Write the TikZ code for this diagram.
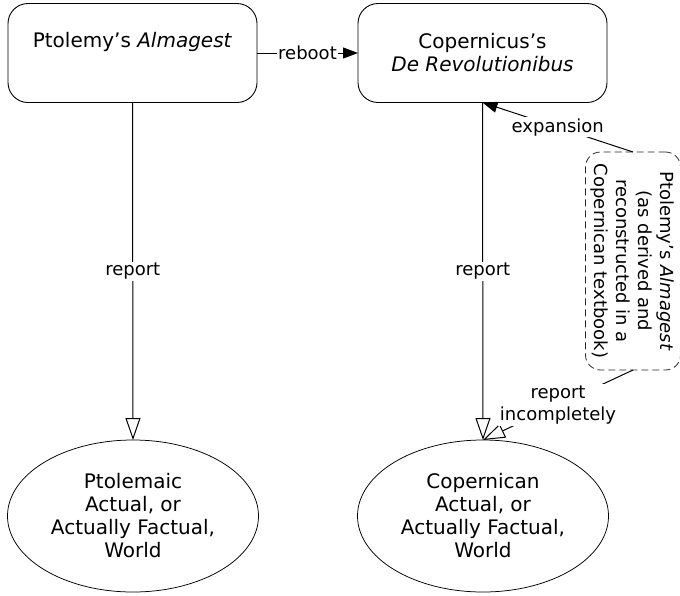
\documentclass[tikz,border=0pt]{standalone}
\usepackage{fontspec}
\setmainfont{DejaVu Sans}
\usetikzlibrary{arrows.meta,shapes.geometric}
\begin{document}
\begin{tikzpicture}[x=1pt,y=-1pt,
  every node/.style={inner sep=0pt, outer sep=0pt},
  nodefont/.style={font=\fontsize{20}{23}\selectfont},
  labfont/.style={font=\fontsize{18}{22}\selectfont},
  work/.style={draw=black, line width=0.9pt, rounded corners=20pt,
    minimum width=249pt, minimum height=99pt},
  world/.style={draw=black, line width=0.75pt, ellipse, minimum width=251pt,
    minimum height=152pt, align=center, nodefont},
  derived/.style={draw=black!85, dash pattern=on 7pt off 4pt, line width=0.8pt,
    rounded corners=15pt, minimum width=95pt, minimum height=218pt},
  conn/.style={line width=1pt},
  lbl/.style={fill=white, labfont, align=center, inner sep=1.5pt},
  openhead/.style={-{Triangle[open, length=22pt, width=15pt, line width=1pt]}},
  solidhead/.style={-{Triangle[length=15pt, width=11pt]}},
]
\useasboundingbox (0,0) rectangle (680,595);

% the two works
\node[work] (alm) at (132.5,53) {};
\node[nodefont] (almtext) at (132.5,42) {Ptolemy’s \textit{Almagest}};
\node[work, align=center, nodefont] (rev) at (482.5,53)
  {Copernicus’s\\\textit{De Revolutionibus}};

% the two worlds
\node[world] (ptw) at (133,516) {Ptolemaic\\Actual, or\\Actually Factual,\\World};
\node[world] (cpw) at (483,516) {Copernican\\Actual, or\\Actually Factual,\\World};

% the textbook version, set sideways
\node[derived] (ptb) at (633,261) {};
\node[labfont, rotate=-90, align=center] (ptbtext) at (632,261)
  {Ptolemy’s \textit{Almagest}\\(as derived and\\reconstructed in a\\Copernican textbook)};

% connectors
\draw[conn, solidhead] (alm.east) -- node[lbl] (lreboot) {reboot} (rev.west);
\draw[conn, openhead] (alm.south) -- node[lbl] (lrep1) {report} (ptw.north);
\draw[conn, openhead] (rev.south) -- node[lbl] (lrep2) {report} (cpw.north);
\draw[conn, solidhead] (ptb.north) -- node[lbl] (lexp) {expansion} (rev.south);
\draw[conn, openhead] (ptb.south) -- node[lbl] (lrepinc) {report\\incompletely} (cpw.north);
\end{tikzpicture}
\end{document}
